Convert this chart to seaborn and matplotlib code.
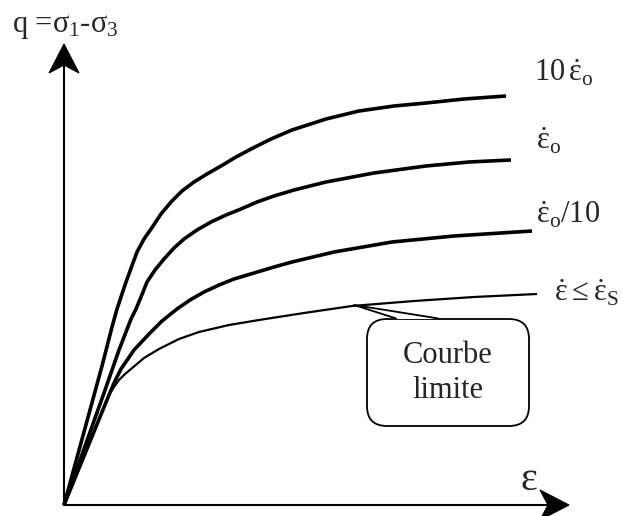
import numpy as np
import pandas as pd
import seaborn as sns
import matplotlib.pyplot as plt
from matplotlib.patches import FancyBboxPatch, Polygon

eps_10 = [0, 20, 38, 48, 53, 62, 73, 80, 87, 97, 107, 118, 130, 143, 157, 172, 187,
          207, 228, 262, 295, 330, 362, 400, 442]
q_10 = [0, 73, 139, 178, 196, 223, 253, 266, 276, 291, 303, 314, 323, 331, 339, 348, 356,
        366, 375, 386, 394, 399, 402, 406, 409]

eps_1 = [0, 20, 40, 55, 67, 72, 77, 83, 91, 100, 110, 120, 133, 147, 162, 177, 193,
         210, 230, 262, 310, 362, 405, 447]
q_1 = [0, 56, 112, 155, 186, 196, 208, 223, 235, 246, 257, 266, 275, 283, 290, 296, 303,
       309, 315, 323, 332, 339, 343, 345]

eps_01 = [0, 45, 50, 57, 70, 85, 98, 113, 126, 140, 155, 170, 190, 210, 228, 270, 328, 390, 468]
q_01 = [0, 110, 122, 136, 155, 171, 184, 196, 205, 213, 220, 226, 232, 238, 243, 253, 263, 269, 274]

eps_lim = [0, 45, 50, 55, 61, 67, 80, 95, 115, 135, 165, 195, 240, 288, 350, 410, 473]
q_lim = [0, 110, 118, 125, 131, 136, 147, 156, 166, 173, 180, 185, 192, 199, 204, 208, 211]

labels = [r"$10\,\dot{\varepsilon}_\mathrm{o}$", r"$\dot{\varepsilon}_\mathrm{o}$",
          r"$\dot{\varepsilon}_\mathrm{o}/10$", r"$\dot{\varepsilon}\leq\dot{\varepsilon}_\mathrm{S}$"]
label_pos = [(470, 423), (472, 356), (472, 281), (490, 204)]

sns.set_style("white")
plt.rcParams["font.family"] = ["Liberation Serif", "DejaVu Serif"]
plt.rcParams["mathtext.fontset"] = "custom"
plt.rcParams["mathtext.rm"] = "Liberation Serif"
plt.rcParams["mathtext.it"] = "Liberation Serif"
plt.rcParams["mathtext.bf"] = "Liberation Serif:bold"

fig = plt.figure(figsize=(6.23, 5.16), dpi=100)
ax = fig.add_axes([0, 0, 1, 1])
ax.set_xlim(-64, 559)
ax.set_ylim(-11, 505)
ax.axis("off")

curves = [(eps_10, q_10, 2.6), (eps_1, q_1, 2.6), (eps_01, q_01, 2.6), (eps_lim, q_lim, 1.6)]
for xs, ys, w in curves:
    df = pd.DataFrame({"eps": xs, "q": ys})
    sns.lineplot(data=df, x="eps", y="q", ax=ax, color="black", lw=w,
                 sort=False, estimator=None, solid_capstyle="butt", solid_joinstyle="round")

# axes avec flèches (tête creusée)
ax.plot([0, 0], [0, 445], color="black", lw=1.5)
ax.plot([0, 490], [0, 0], color="black", lw=1.5)
ax.add_patch(Polygon([(0, 461), (-15, 432), (0, 440), (15, 432)], closed=True,
                     fc="black", ec="black", lw=0.8))
ax.add_patch(Polygon([(505, 0), (476, 15), (484, 0), (476, -15)], closed=True,
                     fc="black", ec="black", lw=0.8))

ax.text(-52, 473, r"q =$\sigma_1$-$\sigma_3$", fontsize=22, va="baseline", ha="left")
ax.text(465, 24, "ε", fontsize=29, va="center", ha="center")

for txt, (x, y) in zip(labels, label_pos):
    ax.text(x, y, txt, fontsize=22, va="baseline", ha="left")

# bulle "Courbe limite"
box = FancyBboxPatch((303, 79), 162, 107, boxstyle="round,pad=0,rounding_size=20",
                     fc="white", ec="black", lw=1.3, zorder=3)
ax.add_patch(box)
tail = Polygon([(332, 186), (290, 200), (374, 186)], closed=True, fc="white",
               ec="none", zorder=4)
ax.add_patch(tail)
ax.plot([332, 290, 374], [186.6, 200, 186.6], color="black", lw=1.3, zorder=5)
ax.text(384, 132, "Courbe\nlimite", fontsize=22, ha="center", va="center",
        linespacing=1.25, zorder=6)

fig.savefig("out.png", dpi=100)
